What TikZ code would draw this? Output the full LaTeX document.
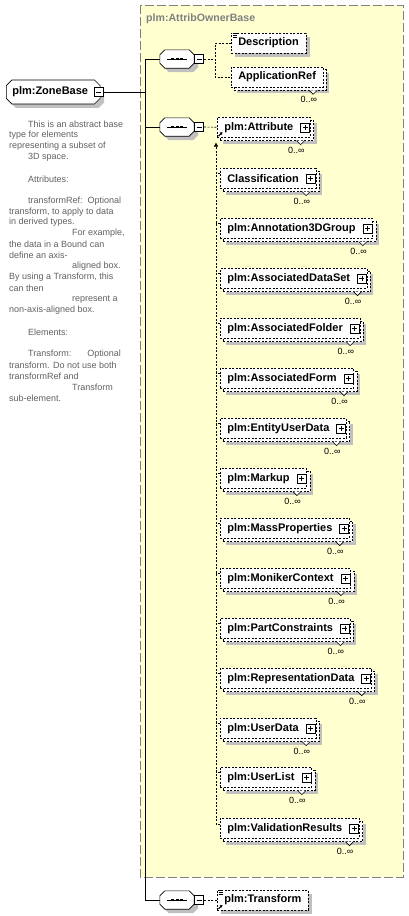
\documentclass[tikz,border=0pt]{standalone}
\usepackage{fontspec}
\setmainfont{Liberation Sans}
\usetikzlibrary{shapes.misc,shadows,arrows.meta}

\definecolor{grpyellow}{RGB}{255,255,208}
\definecolor{grpborder}{RGB}{128,128,128}
\definecolor{shadowgray}{RGB}{192,192,192}
\definecolor{doctext}{RGB}{96,96,96}

\pgfdeclarelayer{yellow}
\pgfdeclarelayer{shadelayer}
\pgfdeclarelayer{copylayer}
\pgfsetlayers{yellow,shadelayer,copylayer,main}

\tikzset{
  namefont/.style={font=\bfseries\fontsize{11}{13}\selectfont},
  elemline/.style={dash pattern=on 2pt off 1.5pt, line width=0.6pt},
  elem/.style={draw, elemline, fill=white, namefont, anchor=north west,
    minimum height=20pt, inner xsep=7pt, inner ysep=0pt},
  single/.style={drop shadow={shadow xshift=4pt, shadow yshift=-4pt,
    fill=shadowgray, opacity=1}},
  conn/.style={dash pattern=on 2pt off 1.5pt, line width=0.6pt},
  tree/.style={line width=0.8pt},
  plusbox/.style={draw, solid, line width=0.6pt, fill=white, minimum size=9pt,
    inner sep=0pt, path picture={
      \draw ([xshift=-2.5pt]path picture bounding box.center) -- ([xshift=2.5pt]path picture bounding box.center);
      \draw ([yshift=-2.5pt]path picture bounding box.center) -- ([yshift=2.5pt]path picture bounding box.center);}},
  minusbox/.style={draw, solid, line width=0.6pt, fill=white, minimum size=9pt,
    inner sep=0pt, path picture={
      \draw ([xshift=-2.5pt]path picture bounding box.center) -- ([xshift=2.5pt]path picture bounding box.center);}},
  seqspot/.style={rectangle, minimum width=34pt, minimum height=18pt, inner sep=0pt},
  zone/.style={chamfered rectangle, chamfered rectangle xsep=2pt, draw,
    line width=0.6pt, fill=white, namefont, anchor=west, minimum height=19pt,
    inner xsep=4pt, single},
  mult/.style={font=\fontsize{9}{11}\selectfont, inner sep=0pt, anchor=east},
  doc/.style={font=\fontsize{9}{11}\selectfont, text=doctext, inner sep=0pt, anchor=west},
  grp/.style={draw=grpborder, fill=grpyellow, line width=0.8pt, dash pattern=on 9pt off 3pt},
  grptitle/.style={font=\bfseries\fontsize{10.6}{12}\selectfont, text=grpborder,
    anchor=west, inner sep=0pt},
  refarrow/.style={line width=1pt, -{Triangle[length=2.5pt,width=3pt]}},
}

% octagon round a node, shifted by #2,#3
\newcommand{\octpath}[3]{([shift={(#2+5pt,#3)}]#1.north west) -- ([shift={(#2-5pt,#3)}]#1.north east)
  -- ([shift={(#2,#3-5pt)}]#1.north east) -- ([shift={(#2,#3+5pt)}]#1.south east)
  -- ([shift={(#2-5pt,#3)}]#1.south east) -- ([shift={(#2+5pt,#3)}]#1.south west)
  -- ([shift={(#2,#3+5pt)}]#1.south west) -- ([shift={(#2,#3-5pt)}]#1.north west) -- cycle}

% sequence compositor with its minus box
\newcommand{\seqnode}[3]{%
  \node[seqspot] (#1) at (#2,#3) {};
  \fill[shadowgray] \octpath{#1}{4pt}{-4pt};
  \draw[line width=0.6pt, fill=white] \octpath{#1}{0pt}{0pt};
  \draw[line width=0.8pt] ([xshift=-10pt]#1.center) -- ([xshift=10pt]#1.center);
  \foreach \d in {-6,-1.5,3}
    \fill ([shift={(\d pt,1.3pt)}]#1.center) rectangle ++(3,2.6);
  \node[minusbox] (#1-m) at ([xshift=5pt]#1.east) {};
}

% back copy, shadow, notch and 0..oo of a repeated element
\newcommand{\repback}[1]{%
  \begin{pgfonlayer}{copylayer}
    \draw[elemline, fill=white] ([shift={(3pt,-3pt)}]#1.north west) rectangle ([shift={(3pt,-3pt)}]#1.south east);
  \end{pgfonlayer}
  \begin{pgfonlayer}{shadelayer}
    \fill[shadowgray] ([shift={(6pt,-6pt)}]#1.north west) rectangle ([shift={(6pt,-6pt)}]#1.south east);
  \end{pgfonlayer}
  \draw[line width=0.6pt, fill=white] ([shift={(-14pt,-3pt)}]#1.south east) -- ++(4,4) -- ++(4,-4);
  \node[mult] (#1-m) at ([shift={(-6pt,-12.5pt)}]#1.south east) {0..∞};
}
% repeated element with a plus box
\newcommand{\repelem}[4]{%
  \node[elem] (#1) at (#2,#3) {#4\kern10pt};
  \node[plusbox] (#1-pb) at ([xshift=-5.5pt]#1.east) {};
  \repback{#1}
}

\begin{document}
\begin{tikzpicture}[x=1pt,y=-1pt]
  \useasboundingbox (0,0) rectangle (408,916);

  % group box
  \begin{pgfonlayer}{yellow}
    \draw[grp] (140,5) rectangle (403,877);
  \end{pgfonlayer}
  \node[grptitle] (grpname) at (146,19) {plm:AttribOwnerBase};

  % root element
  \node[zone] (zone) at (6,92) {plm:ZoneBase\kern6pt};
  \node[minusbox] (zone-m) at ([xshift=-1.5pt]zone.east) {};

  % documentation
  \foreach \ix/\k/\txt in {28/0/{This is an abstract base}, 9/1/{type for elements},
      9/2/{representing a subset of}, 28/3/{3D space.}, 28/5/{Attributes:},
      28/7/{transformRef:\ \ Optional}, 9/8/{transform, to apply to data},
      9/9/{in derived types.}, 72/10/{For example,}, 9/11/{the data in a Bound can},
      9/12/{define an axis-}, 72/13/{aligned box.}, 9/14/{By using a Transform, this},
      9/15/{can then}, 72/16/{represent a}, 9/17/{non-axis-aligned box.},
      28/19/{Elements:}, 28/21/{Transform:\hspace{16pt}Optional},
      9/22/{transform. Do not use both}, 9/23/{transformRef and},
      72/24/{Transform}, 9/25/{sub-element.}}
    \node[doc] (doc\k) at (\ix,124+10.96*\k) {\txt};

  % sequences
  \seqnode{seq1}{177}{59}
  \seqnode{seq2}{177}{127}
  \seqnode{seq3}{177}{900}

  % trunk
  \coordinate (jn) at (145,92);
  \draw[tree] (zone-m.east) -- (jn);
  \draw[tree] (seq1.west) -- (seq1.west -| jn) -- (seq3.west -| jn) -- (seq3.west);
  \draw[tree] (seq2.west) -- (seq2.west -| jn);

  % first sequence
  \node[elem, single, anchor=west] (desc) at (231,43) {Description};
  \foreach \dy in {0.5,2.5,4.5}
    \draw[line width=0.6pt] ([shift={(1.5pt,-\dy pt)}]desc.north west) -- ++(4,0);
  \node[elem, anchor=west] (appref) at (231,77) {ApplicationRef};
  \repback{appref}
  \coordinate (br1) at (215,59);
  \draw[conn] (seq1-m.east) -- (br1);
  \draw[conn] (desc.west) -- (desc.west -| br1) -- (appref.west -| br1) -- (appref.west);

  % second sequence
  \repelem{attr}{217}{117}{plm:Attribute}
  \draw[refarrow] ([shift={(1.5pt,1.5pt)}]attr.south west) -- ++(4,-4);
  \draw[conn] (seq2-m.east) -- (attr.west);

  \repelem{classif}{220}{168}{Classification}
  \repelem{annot}{220}{218}{plm:Annotation3DGroup}
  \repelem{dataset}{220}{268}{plm:AssociatedDataSet}
  \repelem{folder}{220}{318}{plm:AssociatedFolder}
  \repelem{form}{220}{368}{plm:AssociatedForm}
  \repelem{entity}{220}{418}{plm:EntityUserData}
  \repelem{markup}{220}{468}{plm:Markup}
  \repelem{mass}{220}{518}{plm:MassProperties}
  \repelem{moniker}{220}{568}{plm:MonikerContext}
  \repelem{partc}{220}{618}{plm:PartConstraints}
  \repelem{repr}{220}{668}{plm:RepresentationData}
  \repelem{userdata}{220}{718}{plm:UserData}
  \repelem{userlist}{220}{767}{plm:UserList}
  \repelem{valid}{220}{818}{plm:ValidationResults}

  % attribute group line
  \coordinate (gtop) at ([shift={(-1pt,-5pt)}]attr.south west);
  \foreach \n in {classif,annot,dataset,folder,form,entity,markup,mass,moniker,partc,repr,userdata,userlist}
    \draw[conn] ([yshift=-5pt]\n.north west) -- ++(-4,0);
  \draw[conn, -{Triangle[length=4pt,width=4pt]}] ([yshift=-6pt]valid.north west) -- ++(-4,0) -- (gtop);

  % third sequence
  \node[elem, single, anchor=west] (trans) at (217,900) {plm:Transform};
  \foreach \dy in {0.5,2.5,4.5}
    \draw[line width=0.6pt] ([shift={(1.5pt,-\dy pt)}]trans.north west) -- ++(4,0);
  \draw[refarrow] ([shift={(1.5pt,1.5pt)}]trans.south west) -- ++(4,-4);
  \draw[conn] (seq3-m.east) -- (trans.west);
\end{tikzpicture}
\end{document}
